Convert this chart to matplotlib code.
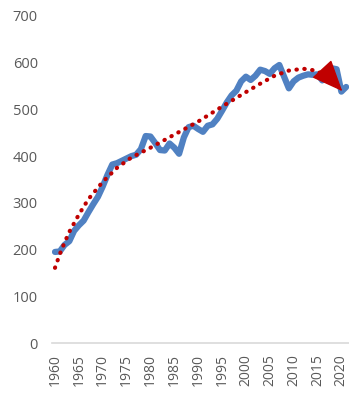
# -*- coding: utf-8 -*-

import matplotlib
matplotlib.use("Agg")
import matplotlib.pyplot as plt

#---------------------------------------------------------------------------------------------------------------------------------------------

anos = list(range(1960, 2022))
valores = [195, 196, 210, 218, 240, 252, 262, 280, 297, 313,
           335, 360, 382, 385, 390, 395, 400, 403, 415, 443,
           442, 428, 413, 412, 427, 418, 405, 440, 462, 465,
           458, 452, 465, 468, 480, 497, 515, 530, 540, 560,
           570, 563, 572, 585, 582, 576, 588, 595, 570, 545,
           560, 568, 572, 575, 574, 575, 562, 585, 588, 586,
           538, 548]

# tendencia
anos_tendencia = [1960, 1961, 1962, 1963, 1965, 1967, 1970, 1973, 1976, 1980, 1985, 1990,
                  1995, 2000, 2003, 2006, 2009, 2012, 2014, 2016, 2017.5]
valores_tendencia = [161, 190, 215, 238, 275, 308, 345, 375, 397, 418, 446, 474,
                     506, 537, 555, 572, 583, 587, 584, 577, 569]
seta_inicio = (2017.5, 569)
seta_fim = (2020.2, 539)

marcas_x = list(range(1960, 2021, 5))
marcas_y = list(range(0, 701, 100))

#---------------------------------------------------------------------------------------------------------------------------------------------

plt.rcParams['font.family'] = ['Open Sans', 'DejaVu Sans']

fig = plt.figure(figsize=(3.49, 3.98), dpi=100)
ax = fig.add_axes([0.148, 0.138, 0.852, 0.822])

ax.plot(anos, valores, color='#5081C2', linewidth=4.5, solid_capstyle='round', solid_joinstyle='round', zorder=2)
ax.plot(anos_tendencia, valores_tendencia, color='#C00000', linewidth=3,
        linestyle=(0, (0.1, 1.8)), dash_capstyle='round', zorder=3)
ax.annotate('', xy=seta_fim, xytext=seta_inicio,
            arrowprops=dict(arrowstyle='-|>,head_length=1.0,head_width=0.42', mutation_scale=20,
                            color='#C00000', linewidth=1, shrinkA=0, shrinkB=0), zorder=4)

ax.set_xlim(1959.3, 2021.6)
ax.set_ylim(0, 700)
ax.set_xticks(marcas_x)
ax.set_xticklabels([str(a) for a in marcas_x], rotation=90)
ax.set_yticks(marcas_y)

for lado in ['top', 'right', 'left']:
	ax.spines[lado].set_visible(False)
ax.spines['bottom'].set_color('#D9D9D9')
ax.spines['bottom'].set_linewidth(1.2)

ax.tick_params(axis='y', length=0, pad=10, labelsize=10.5, labelcolor='#595959')
ax.tick_params(axis='x', length=0, pad=8, labelsize=10, labelcolor='#595959')

fig.savefig('out.png', dpi=100)
